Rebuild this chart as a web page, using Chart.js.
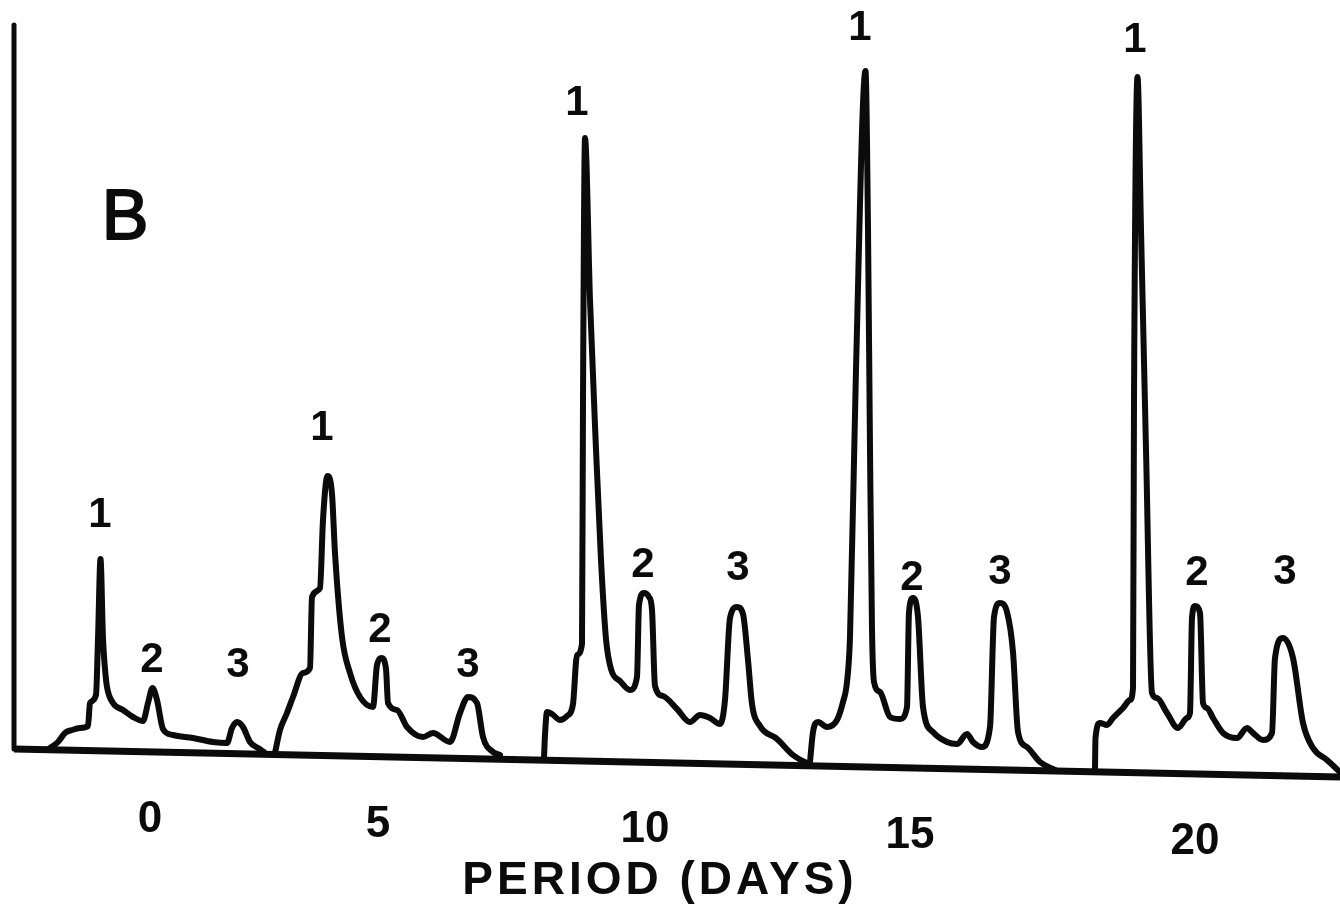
<!DOCTYPE html>
<html>
<head>
<meta charset="utf-8">
<script src="https://cdn.jsdelivr.net/npm/chart.js@4/dist/chart.umd.min.js"></script>
<style>
  html, body { margin: 0; padding: 0; background: #fff; }
  #wrap { width: 1340px; height: 914px; }
</style>
</head>
<body>
<div id="wrap"><canvas id="chart" width="1340" height="914"></canvas></div>
<script>
// Detector traces, one per sampling day (x: chart position, y: response)
const trace0X = [50, 58, 65, 72, 80, 88, 90, 96, 98, 100.5, 103, 105, 107, 113, 123, 133, 143, 148, 152.5, 157, 163, 173, 193, 213, 227, 232, 237, 243, 250, 258, 264];
const trace0Y = [1, 7, 16, 19, 21, 23, 46, 54, 110, 190, 110, 80, 62, 46, 39, 32, 28, 46, 61, 49, 20, 14, 11, 7, 6, 21, 27, 22, 7, 1, -3];

const trace5X = [275, 280, 287, 293, 303, 310, 312, 320, 323, 327.5, 332, 335, 342, 350, 360, 373, 377, 381.5, 386, 388, 397, 407, 423, 433, 450, 460, 468, 477, 483, 493, 500];
const trace5Y = [-4, 19, 36, 52, 76, 81, 152, 161, 229, 273, 255, 196, 112, 76, 52, 42, 84, 91, 80, 46, 39, 22, 12, 16, 7, 36, 52, 46, 12, -3, -6];

const trace10X = [544, 545, 547, 552, 560, 567, 573, 577, 582, 583, 585, 590, 596, 601, 606, 611, 620, 630, 637, 639, 644, 649, 652, 655, 663, 677, 690, 700, 710, 720, 725, 730, 737, 743, 748, 752, 760, 777, 793, 808];
const trace10Y = [-9, 14, 37, 35, 29, 33, 45, 94, 105, 349, 611, 449, 300, 189, 110, 80, 68, 59, 72, 144, 156, 152, 139, 63, 53, 40, 27, 34, 31, 25, 49, 131, 142, 135, 89, 45, 23, 10, -6, -15];

const trace15X = [810, 813, 818, 827, 837, 843, 847, 850, 856, 865.5, 868, 870, 872, 874, 880, 890, 900, 907, 909, 913, 918, 923, 933, 947, 957, 967, 973, 982, 990, 994, 1000, 1007, 1013, 1018, 1027, 1040, 1055];
const trace15Y = [-13, 17, 27, 22, 29, 47, 67, 112, 380, 678, 520, 300, 120, 67, 57, 32, 30, 42, 137, 151, 132, 42, 17, 7, 5, 15, 7, 2, 22, 132, 146, 137, 97, 17, 2, -13, -21];

const trace20X = [1095, 1095.5, 1100, 1107, 1113, 1123, 1130, 1133, 1134, 1137.5, 1141, 1146, 1152, 1157, 1167, 1178, 1187, 1190, 1192, 1195, 1200, 1203, 1207, 1213, 1223, 1237, 1247, 1253, 1263, 1272, 1275, 1283, 1293, 1303, 1313, 1327, 1340];
const trace20Y = [-19, 11, 26, 24, 31, 41, 49, 61, 349, 672, 520, 300, 56, 51, 36, 21, 31, 36, 131, 143, 136, 46, 41, 31, 16, 11, 21, 16, 9, 16, 91, 111, 91, 26, 1, -11, -23];

// Recorder baseline (drifts slightly downward) and response axis
const baselineX = [14, 1340];
const baselineY = [0, -28];
const axisX = [14, 14];
const axisY = [724, 0];

// Peak numbering, with where each number is written (chart units)
const peakNames = ['1', '2', '3'];
const peakLabelX = [[100, 152, 238], [322, 380, 468], [577, 643, 738], [860, 912, 1000], [1135, 1197, 1285]];
const peakLabelY = [[234, 89, 84], [321, 119, 84], [646, 184, 181], [721, 171, 177], [709, 176, 177]];

// Period tick labels, written under each trace
const periodTicks = ['0', '5', '10', '15', '20'];
const periodTickAt = [150, 378, 645, 910, 1195];
const axisTitle = 'PERIOD (DAYS)';
const panelLetter = 'B';
const panelAt = [125, 529];

const INK = '#0b0b0b';
const pts = (xs, ys) => xs.map((x, i) => ({ x, y: ys[i] }));

function traceSet(xs, ys) {
  return {
    data: pts(xs, ys),
    borderColor: INK,
    borderWidth: 6,
    cubicInterpolationMode: 'monotone',
    borderJoinStyle: 'round',
    borderCapStyle: 'round',
    pointRadius: 0,
    fill: false,
    clip: false
  };
}

const datasets = [
  { data: pts(axisX, axisY), borderColor: INK, borderWidth: 5, pointRadius: 0, tension: 0, clip: false, borderCapStyle: 'round' },
  { data: pts(baselineX, baselineY), borderColor: INK, borderWidth: 7, pointRadius: 0, tension: 0, clip: false },
  traceSet(trace0X, trace0Y),
  traceSet(trace5X, trace5Y),
  traceSet(trace10X, trace10Y),
  traceSet(trace15X, trace15Y),
  traceSet(trace20X, trace20Y)
];

function baselineAt(v) {
  const t = (v - baselineX[0]) / (baselineX[1] - baselineX[0]);
  return baselineY[0] + t * (baselineY[1] - baselineY[0]);
}

const lettering = {
  id: 'lettering',
  afterDatasetsDraw(chart) {
    const { ctx, scales: { x, y } } = chart;
    ctx.save();
    ctx.fillStyle = INK;
    ctx.strokeStyle = INK;
    ctx.lineJoin = 'round';
    ctx.textAlign = 'center';
    ctx.textBaseline = 'middle';

    // peak numbers
    ctx.font = 'bold 42px "Liberation Sans", Arial, sans-serif';
    peakLabelX.forEach((row, i) => row.forEach((lx, j) => {
      ctx.fillText(peakNames[j], x.getPixelForValue(lx), y.getPixelForValue(peakLabelY[i][j]));
    }));

    // period ticks follow the drifting baseline
    ctx.font = 'bold 44px "Liberation Sans", Arial, sans-serif';
    periodTicks.forEach((t, i) => {
      const v = periodTickAt[i];
      ctx.fillText(t, x.getPixelForValue(v), y.getPixelForValue(baselineAt(v)) + 68);
    });

    // axis title
    ctx.font = 'bold 46px "Liberation Sans", Arial, sans-serif';
    ctx.letterSpacing = '4px';
    ctx.fillText(axisTitle, 660, 881);
    ctx.letterSpacing = '0px';

    // panel letter
    ctx.font = '70px "Liberation Sans", Arial, sans-serif';
    ctx.lineWidth = 2;
    const bx = x.getPixelForValue(panelAt[0]), by = y.getPixelForValue(panelAt[1]);
    ctx.fillText(panelLetter, bx, by);
    ctx.strokeText(panelLetter, bx, by);
    ctx.restore();
  }
};

new Chart(document.getElementById('chart'), {
  type: 'line',
  data: { datasets },
  options: {
    responsive: false,
    animation: false,
    layout: { padding: { left: 14, right: 0, top: 25, bottom: 134 } },
    scales: {
      x: { type: 'linear', display: false, min: 14, max: 1340 },
      y: { type: 'linear', display: false, min: -31, max: 724 }
    },
    plugins: { legend: { display: false }, tooltip: { enabled: false } },
    events: []
  },
  plugins: [lettering]
});
</script>
</body>
</html>
